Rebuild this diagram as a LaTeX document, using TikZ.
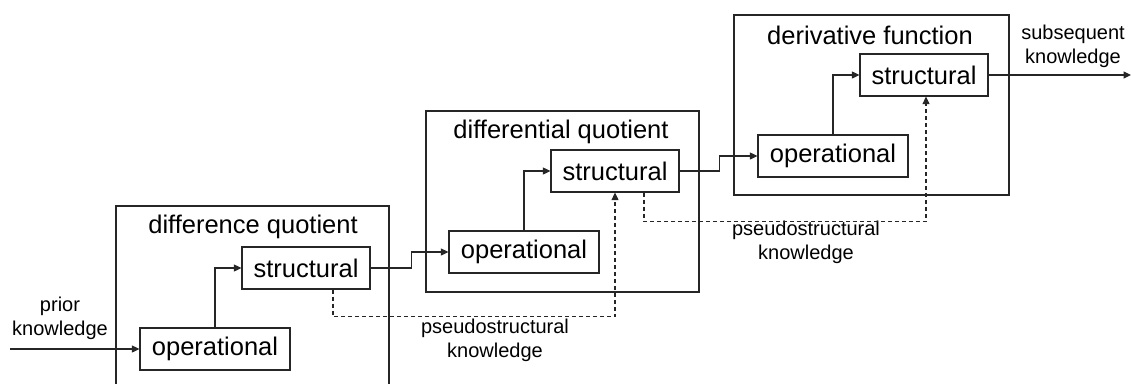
\documentclass[tikz,border=0pt]{standalone}
\usepackage{fontspec}
\setmainfont{Liberation Sans}
\usetikzlibrary{arrows.meta,calc}
\begin{document}
\begin{tikzpicture}[x=1pt,y=-1pt,
  line width=1.1pt, draw=black!85,
  big/.style={draw, line width=1.2pt, inner sep=0pt},
  title/.style={font=\fontsize{25.5}{30}\selectfont, inner sep=0pt},
  opbox/.style={draw, line width=1.2pt, minimum width=150pt, minimum height=42pt, inner sep=0pt, font=\fontsize{25.5}{30}\selectfont},
  stbox/.style={draw, line width=1.2pt, minimum width=128pt, minimum height=42pt, inner sep=0pt, font=\fontsize{25.5}{30}\selectfont},
  lab/.style={align=center, inner sep=0pt, font=\fontsize{20}{24}\selectfont},
  conn/.style={-{Triangle[length=7.5pt,width=7pt]}},
  pseudo/.style={conn, dashed, dash pattern=on 4pt off 3pt, line width=1.1pt}
]
\useasboundingbox (0,0) rectangle (1131,383);
% big boxes
\node[big, minimum width=273pt, minimum height=194pt] (b1) at (252.5,303) {};
\node[big, minimum width=273pt, minimum height=181pt] (b2) at (562.5,201.5) {};
\node[big, minimum width=275pt, minimum height=180pt] (b3) at (871.5,105) {};
\node[title] (t1) at (253,227) {difference quotient};
\node[title] (t2) at (561,132) {differential quotient};
\node[title] (t3) at (870,35) {derivative function};
% inner boxes
\node[opbox] (op1) at (215,349) {operational};
\node[stbox] (st1) at (306,268) {structural};
\node[opbox] (op2) at (524,252) {operational};
\node[stbox] (st2) at (615,171) {structural};
\node[opbox] (op3) at (833,156) {operational};
\node[stbox] (st3) at (924,75) {structural};
% labels
\node[lab] (prior) at (60,318) {prior\\knowledge};
\node[lab] (subs) at (1073,46) {subsequent\\knowledge};
\node[lab] (ps1) at (495,340) {pseudostructural\\knowledge};
\node[lab] (ps2) at (806,242) {pseudostructural\\knowledge};
\coordinate (in) at (10,349);
\coordinate (out) at (1131,75);
% connectors
\draw[conn] (in) -- (op1.west);
\draw[conn] (op1.north) |- (st1.west);
\draw[conn] (st1.east) -- ++(41,0) |- (op2.west);
\draw[conn] (op2.north) |- (st2.west);
\draw[conn] (st2.east) -- ++(40,0) |- (op3.west);
\draw[conn] (op3.north) |- (st3.west);
\draw[conn] (st3.east) -- (out);
\draw[pseudo] ($(st1.south)+(27,0)$) -- ++(0,27) -| (st2.south);
\draw[pseudo] ($(st2.south)+(29,0)$) -- ++(0,29) -| ($(st3.south)+(2,0)$);
\end{tikzpicture}
\end{document}
